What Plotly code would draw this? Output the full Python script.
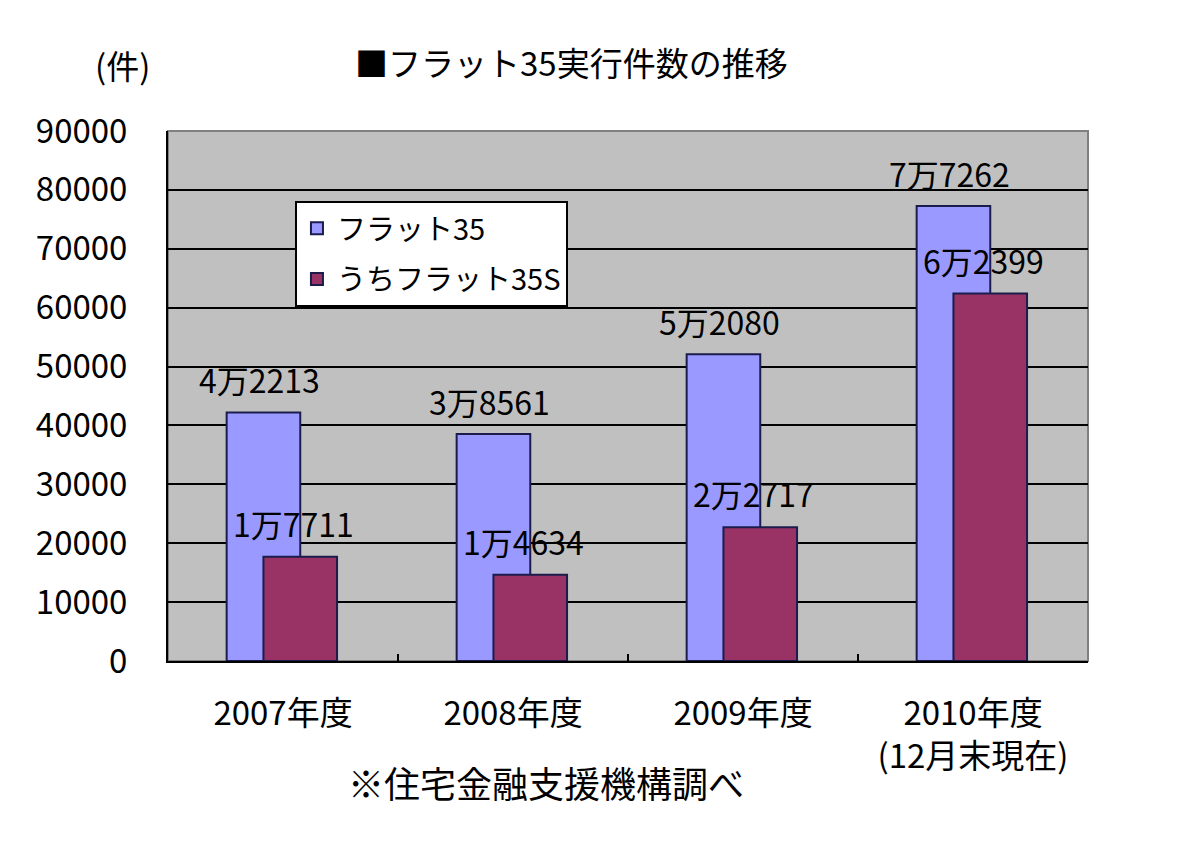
import plotly.graph_objects as go

categories = ["2007年度", "2008年度", "2009年度", "2010年度<br>(12月末現在)"]
flat35 = [42213, 38561, 52080, 77262]
flat35s = [17711, 14634, 22717, 62399]
flat35_labels = ["4万2213", "3万8561", "5万2080", "7万7262"]
flat35s_labels = ["1万7711", "1万4634", "2万2717", "6万2399"]
series_names = ["フラット35", "うちフラット35S"]

FONT = "Noto Sans CJK JP"
BLUE = "#9999FF"
RED = "#993366"
EDGE = "#1c1c4c"

fig = go.Figure()
fig.add_trace(go.Bar(
    x=categories, y=flat35, name=series_names[0], legendgroup="a",
    marker=dict(color=BLUE, line=dict(color=EDGE, width=2)),
    width=0.32, offset=-0.245,
))
fig.add_trace(go.Bar(
    x=categories, y=flat35s, name=series_names[1], legendgroup="b",
    marker=dict(color=RED, line=dict(color=EDGE, width=2)),
    width=0.32, offset=-0.085,
))

annotations = []
for c, v, t in zip(categories, flat35, flat35_labels):
    annotations.append(dict(x=c, y=v, xref="x", yref="y", text=t, showarrow=False,
                            xshift=-24, yshift=33, yanchor="middle",
                            font=dict(family=FONT, size=32, color="black")))
for c, v, t in zip(categories, flat35s, flat35s_labels):
    annotations.append(dict(x=c, y=v, xref="x", yref="y", text=t, showarrow=False,
                            xshift=10, yshift=34, yanchor="middle",
                            font=dict(family=FONT, size=32, color="black")))

annotations.append(dict(x=0.439, y=1.130, xref="paper", yref="paper",
                        text="■フラット35実行件数の推移", showarrow=False,
                        xanchor="center", yanchor="middle",
                        font=dict(family=FONT, size=33, color="black")))
annotations.append(dict(x=-0.05, y=1.1245, xref="paper", yref="paper",
                        text="(件)", showarrow=False,
                        xanchor="center", yanchor="middle",
                        font=dict(family=FONT, size=33, color="black")))
annotations.append(dict(x=0.411, y=-0.228, xref="paper", yref="paper",
                        text="※住宅金融支援機構調べ", showarrow=False,
                        xanchor="center", yanchor="middle",
                        font=dict(family=FONT, size=36, color="black")))

fig.update_layout(
    width=1200, height=863,
    margin=dict(l=168, r=112, t=131, b=202),
    paper_bgcolor="white",
    plot_bgcolor="#C0C0C0",
    barmode="overlay",
    showlegend=True,
    legend=dict(x=0.138, y=0.868, xanchor="left", yanchor="top",
                bgcolor="white", bordercolor="black", borderwidth=2,
                font=dict(family=FONT, size=29, color="black"),
                tracegroupgap=10, traceorder="grouped"),
    annotations=annotations,
    shapes=[dict(type="rect", xref="paper", yref="paper", x0=0, x1=1, y0=0, y1=1,
                 line=dict(color="#808080", width=2), layer="below")],
    font=dict(family=FONT, color="black"),
)
fig.update_xaxes(
    type="category",
    showgrid=False,
    showline=True, linecolor="black", linewidth=2,
    ticks="inside", ticklen=7, tickwidth=2, tickcolor="black",
    tickson="boundaries",
    tickfont=dict(family=FONT, size=33, color="black"),
    ticklabelstandoff=22,
    range=[-0.5, 3.5],
)
fig.update_yaxes(
    range=[0, 90000], dtick=10000, tick0=0,
    showgrid=True, gridcolor="black", gridwidth=2,
    showline=True, linecolor="black", linewidth=2,
    ticks="", zeroline=False,
    tickfont=dict(family=FONT, size=33, color="black"),
    ticklabelstandoff=32,
    tickformat="d",
)

fig.write_html("out.html")
